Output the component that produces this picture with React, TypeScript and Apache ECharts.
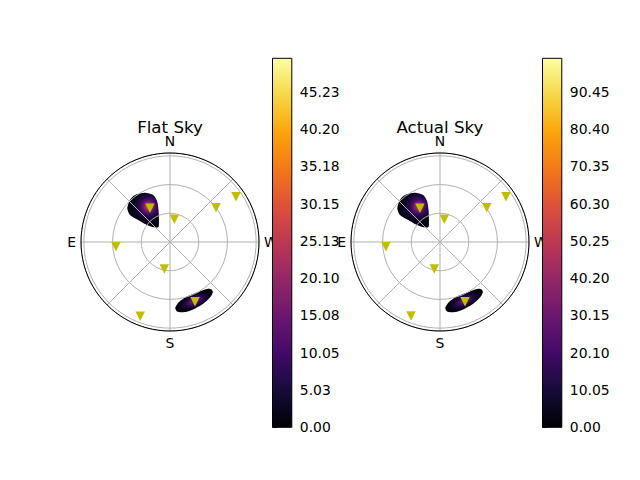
import React, { useEffect, useRef } from 'react';
import * as echarts from 'echarts';

// ---------- data ----------
const DIRECTION_ANGLES = [0, 90, 180, 270];
const DIRECTION_LABELS = ['N', 'E', 'S', 'W'];
const ZENITH_MAX = 93;
const ZENITH_STEP = 30;

const FLAT_TICKS = [0, 5.025, 10.05, 15.075, 20.1, 25.125, 30.15, 35.175, 40.2, 45.225];
const FLAT_TICK_LABELS = ['0.00', '5.03', '10.05', '15.08', '20.10', '25.13', '30.15', '35.18', '40.20', '45.23'];
const FLAT_MAX = 49.75;

const ACTUAL_TICKS = [0, 10.05, 20.1, 30.15, 40.2, 50.25, 60.3, 70.35, 80.4, 90.45];
const ACTUAL_TICK_LABELS = ['0.00', '10.05', '20.10', '30.15', '40.20', '50.25', '60.30', '70.35', '80.40', '90.45'];
const ACTUAL_MAX = 99.5;

// sources: [zenith, azimuth]
const FLAT_SOURCES = [
  [41.0, 30.7], [24.2, 349.3], [83.7, 304.5], [60.0, 306.7],
  [56.7, 95.0], [28.9, 168.1], [67.7, 202.7], [83.5, 158.1],
];
const ACTUAL_SOURCES = [
  [41.0, 30.7], [24.2, 349.3], [83.7, 304.5], [60.6, 306.3],
  [56.7, 95.0], [28.9, 168.1], [67.7, 202.7], [83.1, 158.6],
];

// blob outlines: [zenith, azimuth]
const NE_OUTLINE = [
  [60.9, 34.9], [57.8, 26.9], [52.2, 19.6], [44.2, 17.5], [33.8, 20.5], [24.2, 28.5],
  [19.7, 38.5], [25.0, 50.1], [32.2, 54.2], [40.4, 55.2], [50.5, 56.0], [56.9, 51.7],
  [60.7, 43.6], [61.4, 39.5],
];
const SE_OUTLINE = [
  [69.0, 184.6], [64.2, 187.5], [60.8, 193.1], [59.4, 200.3], [59.7, 207.5], [61.0, 214.4],
  [63.2, 219.3], [66.0, 221.2], [68.9, 220.6], [70.9, 217.4], [72.4, 212.3], [73.5, 207.1],
  [74.3, 200.8], [74.8, 195.0], [74.5, 189.5], [72.6, 185.6],
];
const NE_PEAK = [43.4, 31.2];
const SE_PEAK = [66.8, 202.5];
// spread: [major deg, minor deg, tilt deg]
const NE_SPREAD = [23, 23, 0];
const SE_SPREAD = [21, 9, 22];
// radial profiles: [fraction of spread, value]
const FLAT_NE_PROFILE = [[0, 30], [0.15, 21], [0.3, 12], [0.45, 6.5], [0.65, 2.5], [1, 0.4]];
const FLAT_SE_PROFILE = [[0, 18], [0.25, 12], [0.5, 6], [0.75, 2], [1, 0.4]];
const ACTUAL_NE_PROFILE = [[0, 56], [0.15, 39], [0.3, 22], [0.45, 12], [0.65, 4.5], [1, 0.8]];
const ACTUAL_SE_PROFILE = [[0, 34], [0.25, 23], [0.5, 11], [0.75, 4], [1, 0.8]];

// ---------- colormap ----------
const INFERNO = ['#000004', '#160b39', '#420a68', '#6a176e', '#932667', '#bc3754', '#dd513a', '#f37819', '#fca50a', '#f6d746', '#fcffa4'];
function hexToRgb(h: string) {
  return [parseInt(h.slice(1, 3), 16), parseInt(h.slice(3, 5), 16), parseInt(h.slice(5, 7), 16)];
}
function inferno(t: number): string {
  const n = INFERNO.length - 1;
  const tt = Math.max(0, Math.min(1, t)) * n;
  const i = Math.min(n - 1, Math.floor(tt));
  const f = tt - i;
  const a = hexToRgb(INFERNO[i]);
  const b = hexToRgb(INFERNO[i + 1]);
  const c = a.map((v, k) => Math.round(v + (b[k] - v) * f));
  return `rgb(${c[0]},${c[1]},${c[2]})`;
}

const FONT = 'DejaVu Sans';
const GRID_COLOR = '#b0b0b0';

const PANELS = [
  {
    title: 'Flat Sky', center: [170, 242], cbLeft: 272.5,
    max: FLAT_MAX, ticks: FLAT_TICKS, labels: FLAT_TICK_LABELS, sources: FLAT_SOURCES,
    blobs: [
      { outline: NE_OUTLINE, peak: NE_PEAK, spread: NE_SPREAD, profile: FLAT_NE_PROFILE },
      { outline: SE_OUTLINE, peak: SE_PEAK, spread: SE_SPREAD, profile: FLAT_SE_PROFILE },
    ],
  },
  {
    title: 'Actual Sky', center: [440, 242], cbLeft: 542.5,
    max: ACTUAL_MAX, ticks: ACTUAL_TICKS, labels: ACTUAL_TICK_LABELS, sources: ACTUAL_SOURCES,
    blobs: [
      { outline: NE_OUTLINE, peak: NE_PEAK, spread: NE_SPREAD, profile: ACTUAL_NE_PROFILE },
      { outline: SE_OUTLINE, peak: SE_PEAK, spread: SE_SPREAD, profile: ACTUAL_SE_PROFILE },
    ],
  },
];

function buildOption() {
  const polar: any[] = [];
  const angleAxis: any[] = [];
  const radiusAxis: any[] = [];
  const grid: any[] = [];
  const xAxis: any[] = [];
  const yAxis: any[] = [];
  const series: any[] = [];
  const graphic: any[] = [];

  PANELS.forEach((panel, p) => {
    polar.push({ center: panel.center, radius: 89 });
    angleAxis.push({
      polarIndex: p, type: 'value', min: 0, max: 360, interval: 45,
      startAngle: 90, clockwise: false, z: 4,
      axisLine: { show: true, lineStyle: { color: '#000', width: 1 } },
      axisTick: { show: false },
      splitLine: { show: true, lineStyle: { color: GRID_COLOR, width: 1 } },
      axisLabel: {
        show: true, margin: 5, color: '#000', fontSize: 13.9, fontFamily: FONT,
        formatter: (v: number) => {
          const i = DIRECTION_ANGLES.indexOf(v);
          return i >= 0 ? DIRECTION_LABELS[i] : '';
        },
      },
    });
    radiusAxis.push({
      polarIndex: p, type: 'value', min: 0, max: ZENITH_MAX, interval: ZENITH_STEP, z: 3,
      axisLine: { show: false }, axisTick: { show: false }, axisLabel: { show: false },
      splitLine: { show: true, lineStyle: { color: GRID_COLOR, width: 1 } },
    });
    grid.push({ left: panel.cbLeft, top: 58.3, width: 19.3, height: 369, containLabel: false });
    xAxis.push({ gridIndex: p, type: 'value', min: 0, max: 1, show: false });
    yAxis.push({
      gridIndex: p, type: 'value', position: 'right', min: 0, max: panel.max,
      axisLine: { show: false },
      splitLine: { show: false },
      axisTick: { show: true, inside: false, length: 4.5, lineStyle: { color: '#000', width: 1 }, customValues: panel.ticks },
      axisLabel: {
        show: true, margin: 8, color: '#000', fontSize: 13.9, fontFamily: FONT,
        customValues: panel.ticks,
        formatter: (v: number) => {
          const i = panel.ticks.findIndex((t) => Math.abs(t - v) < 1e-6);
          return i >= 0 ? panel.labels[i] : '';
        },
      },
    });

    // blobs (below the grid lines)
    series.push({
      type: 'custom', coordinateSystem: 'polar', polarIndex: p, z: -5, silent: true,
      data: panel.blobs.map((b) => [b.peak[0], b.peak[1]]),
      renderItem: (params: any, api: any) => {
        const b = panel.blobs[params.dataIndex];
        const c = api.coord([api.value(0), api.value(1)]);
        const o = api.coord([0, 0]);
        const e = api.coord([90, 0]);
        const ppd = Math.hypot(e[0] - o[0], e[1] - o[1]) / 90;
        const sx = b.spread[0] * ppd;
        const sy = b.spread[1] * ppd;
        const th = (b.spread[2] * Math.PI) / 180;
        const ct = Math.cos(th);
        const st = Math.sin(th);
        const pts = b.outline.map(([z, a]) => {
          const g = api.coord([z, a]);
          const dx = g[0] - c[0];
          const dy = g[1] - c[1];
          return [(ct * dx - st * dy) / sx, (st * dx + ct * dy) / sy];
        });
        const stops = b.profile.map(([f, v]) => ({ offset: f, color: inferno(v / panel.max) }));
        return {
          type: 'polygon',
          x: c[0], y: c[1], rotation: th, scaleX: sx, scaleY: sy,
          shape: { points: pts, smooth: 0.25 },
          style: { fill: new echarts.graphic.RadialGradient(0, 0, 1, stops, true), stroke: null, lineWidth: 0 },
        };
      },
    });

    // sources
    series.push({
      type: 'scatter', coordinateSystem: 'polar', polarIndex: p, z: 10, silent: true,
      data: panel.sources, symbol: 'triangle', symbolRotate: 180, symbolSize: 9.5,
      itemStyle: { color: '#bfbf00', opacity: 1 },
    });

    // colorbar
    series.push({
      type: 'custom', coordinateSystem: 'cartesian2d', xAxisIndex: p, yAxisIndex: p, z: 20, silent: true,
      data: [[0, panel.max]],
      renderItem: (params: any, api: any) => {
        const p0 = api.coord([0, 0]);
        const p1 = api.coord([1, api.value(1)]);
        const stops = INFERNO.map((col, k) => ({ offset: k / (INFERNO.length - 1), color: col }));
        return {
          type: 'rect',
          shape: { x: p0[0], y: p1[1], width: p1[0] - p0[0], height: p0[1] - p1[1] },
          style: { fill: new echarts.graphic.LinearGradient(0, 1, 0, 0, stops), stroke: '#000', lineWidth: 1 },
        };
      },
    });

    graphic.push({
      type: 'text', x: panel.center[0], y: 127.5, z: 30, silent: true,
      style: { text: panel.title, textAlign: 'center', textVerticalAlign: 'middle', fill: '#000', fontSize: 16.67, fontFamily: FONT },
    });
  });

  return {
    animation: false,
    backgroundColor: '#ffffff',
    textStyle: { fontFamily: FONT },
    polar, angleAxis, radiusAxis, grid, xAxis, yAxis, series, graphic,
  };
}

export default function App() {
  const ref = useRef<HTMLDivElement>(null);
  useEffect(() => {
    if (!ref.current) return;
    const chart = echarts.init(ref.current, undefined, { renderer: 'svg' });
    chart.setOption(buildOption() as any);
    return () => chart.dispose();
  }, []);
  return (
    <div
      ref={ref}
      style={{ position: 'fixed', left: 0, top: 0, width: 640, height: 480, background: '#fff' }}
    />
  );
}
